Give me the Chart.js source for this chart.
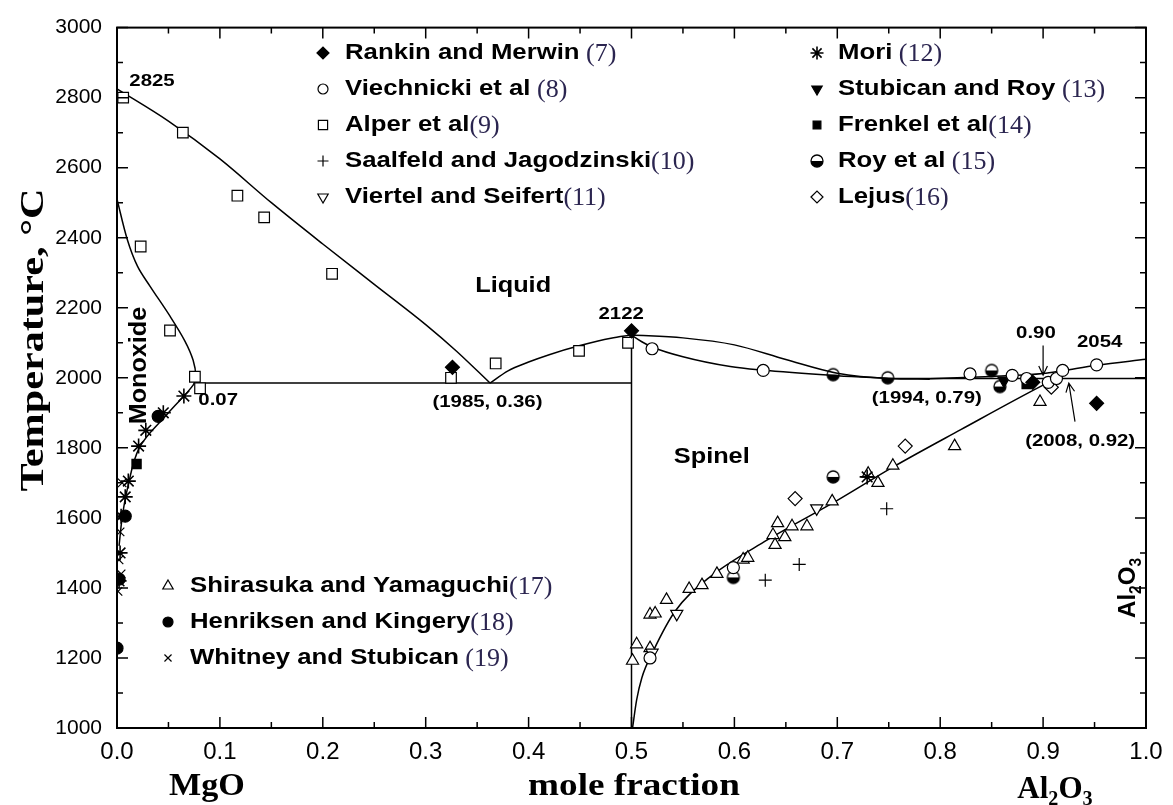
<!DOCTYPE html>
<html lang="en">
  <head>
    <meta charset="UTF-8" />
    <title>MgO - Al2O3 phase diagram</title>
    <script src="https://cdn.jsdelivr.net/npm/chart.js"></script>
    <style>
      body { margin: 0; background: #fff; }
    </style>
  </head>
  <body>
    <canvas id="phaseChart" width="1173" height="805"></canvas>
    <script>
      // axis ticks
      var xTicks = [0, 0.1, 0.2, 0.3, 0.4, 0.5, 0.6, 0.7, 0.8, 0.9, 1.0];
      var yTicks = [1000, 1200, 1400, 1600, 1800, 2000, 2200, 2400, 2600, 2800, 3000];

      // phase boundaries [mole fraction Al2O3, T in C]
      var liqMgO = [[0, 2825], [0.05, 2733], [0.1, 2625], [0.15, 2500], [0.2, 2382], [0.25, 2267], [0.3, 2152], [0.33, 2076], [0.3625, 1985]];
      var monoxide = [[0, 2510], [0.01, 2395], [0.02, 2318], [0.032, 2262], [0.0515, 2176], [0.066, 2105], [0.074, 2050], [0.0765, 2005], [0.074, 1979],
        [0.05, 1900], [0.022, 1802], [0.0097, 1678], [0.005, 1600], [0.002, 1520]];
      var eutecticLeft = [[0.0765, 1985], [0.5, 1985]];
      var liqSpinelLeft = [[0.3625, 1985], [0.38, 2020], [0.4, 2045], [0.42, 2066], [0.45, 2092], [0.48, 2113], [0.5, 2122]];
      var stoich = [[0.5, 2122], [0.5, 1000]];
      var liqSpinelRight = [[0.5, 2122], [0.55, 2114], [0.6, 2094], [0.65, 2052], [0.7, 2013], [0.75, 1998], [0.79, 1996]];
      var solidusSpinel = [[0.5, 2122], [0.51, 2103], [0.52, 2088], [0.55, 2060], [0.596, 2032], [0.626, 2022], [0.7, 2006], [0.75, 1998]];
      var eutecticRight = [[0.75, 1998], [1.0, 1998]];
      var liqAl2O3 = [[0.79, 1997], [0.85, 2004], [0.9, 2012], [0.92, 2021], [0.952, 2036], [1.0, 2053]];
      var solvusSpinel = [[0.501, 1000], [0.505, 1080], [0.51, 1143], [0.521, 1219], [0.542, 1332], [0.5735, 1425], [0.632, 1537], [0.7, 1650],
        [0.754, 1745], [0.82, 1852], [0.9, 1979], [0.92, 2008]];
      var arrow090 = [[0.9, 2092], [0.9, 2008]];
      var arrow092 = [[0.931, 1875], [0.925, 1985]];

      // measured points
      var rankin = [[0.326, 2030], [0.5, 2134], [0.952, 1927], [0.89, 1987]];
      var viechnicki = [[0.52, 2083], [0.628, 2021], [0.829, 2011], [0.87, 2007], [0.884, 1998], [0.905, 1987], [0.913, 1998], [0.919, 2021],
        [0.952, 2037], [0.518, 1200], [0.599, 1458]];
      var alper = [[0.006, 2800], [0.064, 2700], [0.117, 2520], [0.143, 2458], [0.209, 2297], [0.023, 2375], [0.0515, 2135], [0.0757, 2003],
        [0.0807, 1970], [0.3246, 2000], [0.368, 2041], [0.449, 2077], [0.4966, 2100]];
      var saalfeld = [[0.63, 1422], [0.663, 1467], [0.748, 1626]];
      var viertel = [[0.52, 1215], [0.544, 1326], [0.68, 1627]];
      var mori = [[0.065, 1948], [0.045, 1900], [0.028, 1850], [0.021, 1805], [0.011, 1705], [0.008, 1660], [0.004, 1605], [0.003, 1500],
        [0.002, 1420], [0.729, 1717]];
      var stubican = [[0.862, 1992]];
      var frenkel = [[0.019, 1754], [0.884, 1982]];
      var roy = [[0.696, 2009], [0.749, 2000], [0.85, 2021], [0.858, 1975], [0.696, 1717], [0.599, 1430]];
      var lejus = [[0.659, 1655], [0.766, 1805], [0.908, 1973]];
      var shirasuka = [[0.501, 1192], [0.505, 1239], [0.518, 1228], [0.518, 1324], [0.523, 1327], [0.534, 1366], [0.556, 1397], [0.5685, 1408],
        [0.583, 1440], [0.6085, 1481], [0.613, 1486], [0.6375, 1551], [0.642, 1585], [0.6395, 1523], [0.649, 1545], [0.656, 1576],
        [0.6705, 1576], [0.695, 1647], [0.73, 1726], [0.7395, 1700], [0.754, 1749], [0.814, 1805], [0.897, 1931]];
      var henriksen = [[0, 1228], [0.002, 1425], [0.008, 1605], [0.04, 1890]];
      var whitney = [[0.005, 1700], [0.003, 1560], [0.002, 1480], [0.004, 1440], [0.001, 1390]];

      var SANS = "'Liberation Sans', Arial, sans-serif";
      var SERIF = "'Liberation Serif', 'Times New Roman', serif";

      function pts(a) {
        return a.map(function (p) { return { x: p[0], y: p[1] }; });
      }

      // half filled circle for Roy et al
      function halfDisc(r) {
        var c = document.createElement("canvas");
        c.width = c.height = 2 * r + 4;
        var g = c.getContext("2d");
        var m = r + 2;
        g.beginPath();
        g.arc(m, m, r, 0, Math.PI);
        g.closePath();
        g.fillStyle = "#000";
        g.fill();
        g.beginPath();
        g.arc(m, m, r, 0, 2 * Math.PI);
        g.lineWidth = 1.3;
        g.strokeStyle = "#000";
        g.stroke();
        return c;
      }
      var royMark = halfDisc(6);

      var markers = [
        { name: "Rankin and Merwin", ref: " (7)", data: rankin, style: "rectRot", r: 7, fill: "#000" },
        { name: "Viechnicki et al", ref: " (8)", data: viechnicki, style: "circle", r: 6, fill: "#fff" },
        { name: "Alper et al", ref: "(9)", data: alper, style: "rect", r: 7.5, fill: "#fff" },
        { name: "Saalfeld and Jagodzinski", ref: "(10)", data: saalfeld, style: "cross", r: 6.5, fill: "#fff" },
        { name: "Viertel and Seifert", ref: "(11)", data: viertel, style: "triangle", r: 7, fill: "#fff", rot: 180 },
        { name: "Mori", ref: " (12)", data: mori, style: "star", r: 7.5, fill: "#fff", bw: 1.6 },
        { name: "Stubican and Roy", ref: " (13)", data: stubican, style: "triangle", r: 7, fill: "#000", rot: 180 },
        { name: "Frenkel et al", ref: "(14)", data: frenkel, style: "rect", r: 6.5, fill: "#000" },
        { name: "Roy et al", ref: " (15)", data: roy, style: royMark, r: 6, fill: "#000" },
        { name: "Lejus", ref: "(16)", data: lejus, style: "rectRot", r: 7, fill: "#fff" },
        { name: "Shirasuka and Yamaguchi", ref: "(17)", data: shirasuka, style: "triangle", r: 7, fill: "#fff" },
        { name: "Henriksen and Kingery", ref: "(18)", data: henriksen, style: "circle", r: 6, fill: "#000" },
        { name: "Whitney and Stubican", ref: " (19)", data: whitney, style: "crossRot", r: 6, fill: "#fff" }
      ];

      var datasets = [];
      markers.forEach(function (m) {
        datasets.push({
          label: m.name,
          data: pts(m.data),
          showLine: false,
          pointStyle: m.style,
          pointRadius: m.r,
          pointRotation: m.rot || 0,
          pointBackgroundColor: m.fill,
          pointBorderColor: "#000",
          pointBorderWidth: m.bw || 1.2,
          order: 0
        });
      });

      function curve(d, tension, mono) {
        return {
          data: pts(d),
          showLine: true,
          pointRadius: 0,
          borderColor: "#000",
          borderWidth: 1.5,
          tension: tension,
          cubicInterpolationMode: mono ? "monotone" : "default",
          order: 1
        };
      }
      datasets.push(curve(liqMgO, 0, true));
      datasets.push(curve(monoxide, 0.35, false));
      datasets.push(curve(eutecticLeft, 0, false));
      datasets.push(curve(liqSpinelLeft, 0, true));
      datasets.push(curve(stoich, 0, false));
      datasets.push(curve(liqSpinelRight, 0, true));
      datasets.push(curve(solidusSpinel, 0, true));
      datasets.push(curve(eutecticRight, 0, false));
      datasets.push(curve(liqAl2O3, 0, true));
      datasets.push(curve(solvusSpinel, 0, true));

      // stretched text helper
      function txt(ctx, s, x, y, font, align, sx, color) {
        ctx.save();
        ctx.font = font;
        ctx.fillStyle = color || "#000";
        ctx.textBaseline = "middle";
        ctx.textAlign = align || "center";
        ctx.translate(x, y);
        ctx.scale(sx || 1, 1);
        ctx.fillText(s, 0, 0);
        var w = ctx.measureText(s).width * (sx || 1);
        ctx.restore();
        return w;
      }

      // chemical formula with subscripts, parts alternate normal / sub
      function chem(ctx, parts, x, y, size, family, bold) {
        ctx.save();
        var fw = bold ? "bold " : "";
        var total = 0;
        parts.forEach(function (p, i) {
          ctx.font = fw + (i % 2 ? size * 0.65 : size) + "px " + family;
          total += ctx.measureText(p).width;
        });
        var cx = x - total / 2;
        ctx.textBaseline = "alphabetic";
        ctx.textAlign = "left";
        ctx.fillStyle = "#000";
        parts.forEach(function (p, i) {
          ctx.font = fw + (i % 2 ? size * 0.65 : size) + "px " + family;
          ctx.fillText(p, cx, y + (i % 2 ? size * 0.22 : 0));
          cx += ctx.measureText(p).width;
        });
        ctx.restore();
      }

      function arrow(ctx, a, b) {
        var ang = Math.atan2(b[1] - a[1], b[0] - a[0]);
        ctx.beginPath();
        ctx.moveTo(a[0], a[1]);
        ctx.lineTo(b[0], b[1]);
        ctx.moveTo(b[0] - 10 * Math.cos(ang - 0.45), b[1] - 10 * Math.sin(ang - 0.45));
        ctx.lineTo(b[0], b[1]);
        ctx.lineTo(b[0] - 10 * Math.cos(ang + 0.45), b[1] - 10 * Math.sin(ang + 0.45));
        ctx.stroke();
      }

      var decor = {
        id: "decor",
        afterDraw: function (chart) {
          var ctx = chart.ctx;
          var a = chart.chartArea;
          var sx = chart.scales.x, sy = chart.scales.y;
          var X = function (v) { return sx.getPixelForValue(v); };
          var Y = function (v) { return sy.getPixelForValue(v); };

          // frame and inward ticks
          ctx.save();
          ctx.strokeStyle = "#000";
          ctx.lineWidth = 2;
          ctx.strokeRect(a.left, a.top, a.right - a.left, a.bottom - a.top);
          ctx.lineWidth = 1.5;
          ctx.beginPath();
          for (var i = 0; i <= 20; i++) {
            var px = X(i * 0.05), len = i % 2 ? 6 : 11;
            ctx.moveTo(px, a.bottom); ctx.lineTo(px, a.bottom - len);
            ctx.moveTo(px, a.top); ctx.lineTo(px, a.top + len);
            var py = Y(1000 + i * 100);
            ctx.moveTo(a.left, py); ctx.lineTo(a.left + len, py);
            ctx.moveTo(a.right, py); ctx.lineTo(a.right - len, py);
          }
          ctx.stroke();

          // arrows
          ctx.lineWidth = 1.2;
          arrow(ctx, [X(arrow090[0][0]), Y(arrow090[0][1])], [X(arrow090[1][0]), Y(arrow090[1][1])]);
          arrow(ctx, [X(arrow092[0][0]), Y(arrow092[0][1])], [X(arrow092[1][0]), Y(arrow092[1][1])]);
          ctx.restore();

          // annotations
          var b18 = "bold 17px " + SANS;
          txt(ctx, "2825", X(0.034), Y(2848), b18, "center", 1.2);
          txt(ctx, "Liquid", X(0.385), Y(2262), "bold 22px " + SANS, "center", 1.15);
          txt(ctx, "2122", X(0.49), Y(2180), b18, "center", 1.2);
          txt(ctx, "(1985, 0.36)", X(0.36), Y(1931), b18, "center", 1.2);
          txt(ctx, "0.07", X(0.079), Y(1937), b18, "left", 1.2);
          txt(ctx, "Spinel", X(0.578), Y(1773), "bold 22px " + SANS, "center", 1.15);
          txt(ctx, "(1994, 0.79)", X(0.787), Y(1942), b18, "center", 1.2);
          txt(ctx, "0.90", X(0.893), Y(2128), b18, "center", 1.2);
          txt(ctx, "2054", X(0.955), Y(2100), b18, "center", 1.2);
          txt(ctx, "(2008, 0.92)", X(0.936), Y(1819), b18, "center", 1.2);

          ctx.save();
          ctx.translate(X(0.022), Y(2035));
          ctx.rotate(-Math.PI / 2);
          txt(ctx, "Monoxide", 0, 0, "bold 24px " + SANS, "center", 1.05);
          ctx.restore();

          ctx.save();
          ctx.translate(X(0.982), Y(1400));
          ctx.rotate(-Math.PI / 2);
          chem(ctx, ["Al", "2", "O", "3"], 0, 8, 24, SANS, true);
          ctx.restore();

          // axis titles
          ctx.save();
          ctx.translate(34, 340);
          ctx.rotate(-Math.PI / 2);
          txt(ctx, "Temperature, \u00B0C", 0, 0, "bold 33px " + SERIF, "center", 1.28);
          ctx.restore();
          txt(ctx, "MgO", 207, 787, "bold 31px " + SERIF, "center", 1.1);
          txt(ctx, "mole fraction", 634, 787, "bold 31px " + SERIF, "center", 1.2);
          chem(ctx, ["Al", "2", "O", "3"], 1055, 798, 31, SERIF, true);

          // legend, three groups
          var groups = [
            { mx: 323, tx: 345, y0: 53, items: markers.slice(0, 5) },
            { mx: 817, tx: 838, y0: 53, items: markers.slice(5, 10) },
            { mx: 168, tx: 190, y0: 586, items: markers.slice(10) }
          ];
          groups.forEach(function (g) {
            g.items.forEach(function (m, k) {
              var y = g.y0 + k * 36;
              ctx.save();
              ctx.fillStyle = m.fill;
              ctx.strokeStyle = "#000";
              ctx.lineWidth = m.bw || 1.2;
              Chart.helpers.drawPoint(ctx, { pointStyle: m.style, radius: m.r - 1, rotation: m.rot || 0, borderWidth: 1.2 }, g.mx, y);
              ctx.restore();
              var w = txt(ctx, m.name, g.tx, y, "bold 22px " + SANS, "left", 1.17);
              txt(ctx, m.ref, g.tx + w, y + 1, "26px " + SERIF, "left", 1, "#2b2550");
            });
          });
        }
      };

      var ctx = document.getElementById("phaseChart").getContext("2d");
      var phaseChart = new Chart(ctx, {
        type: "scatter",
        data: { datasets: datasets },
        options: {
          responsive: false,
          animation: false,
          devicePixelRatio: 1,
          layout: { padding: { top: 17, right: 27, left: 0, bottom: 0 } },
          plugins: { legend: { display: false }, tooltip: { enabled: false } },
          scales: {
            x: {
              type: "linear",
              min: 0,
              max: 1,
              afterFit: function (s) { s.height = 77; },
              afterBuildTicks: function (s) { s.ticks = xTicks.map(function (v) { return { value: v }; }); },
              grid: { display: false, drawTicks: false },
              border: { display: false },
              ticks: {
                padding: 10,
                color: "#000",
                font: { family: "'Liberation Sans', Arial, sans-serif", size: 24 },
                callback: function (v) { return v.toFixed(1); }
              }
            },
            y: {
              type: "linear",
              min: 1000,
              max: 3000,
              afterFit: function (s) { s.width = 117; },
              afterBuildTicks: function (s) { s.ticks = yTicks.map(function (v) { return { value: v }; }); },
              grid: { display: false, drawTicks: false },
              border: { display: false },
              ticks: {
                padding: 15,
                color: "#000",
                font: { family: "'Liberation Sans', Arial, sans-serif", size: 21 },
                callback: function (v) { return String(v); }
              }
            }
          }
        },
        plugins: [decor]
      });
    </script>
  </body>
</html>
